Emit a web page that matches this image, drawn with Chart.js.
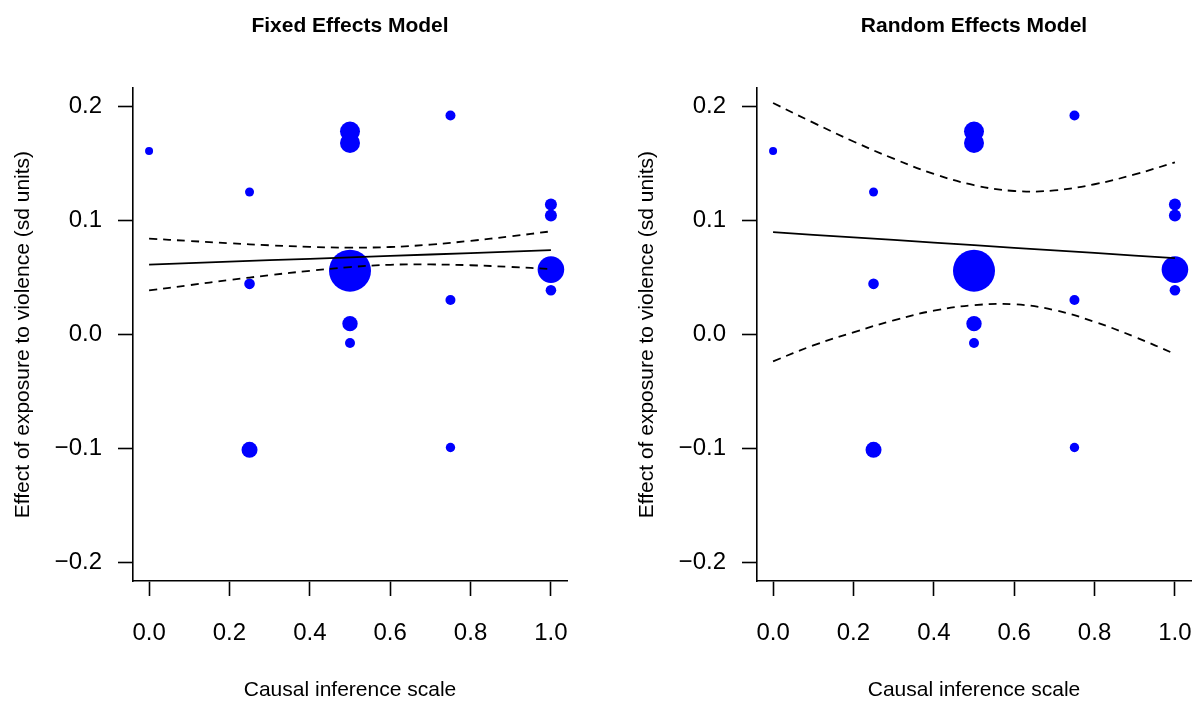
<!DOCTYPE html>
<html>
<head>
<meta charset="utf-8">
<title>Fixed vs Random Effects</title>
<script src="https://cdn.jsdelivr.net/npm/chart.js@4.4.1/dist/chart.umd.min.js"></script>
<style>
  html, body { margin: 0; padding: 0; background: #fff; }
  #wrap { position: relative; width: 1193px; height: 702px; overflow: hidden; }
  #leftChart { position: absolute; left: 0; top: 0; }
  #rightChart { position: absolute; left: 624px; top: 0; }
</style>
</head>
<body>
<div id="wrap">
  <canvas id="leftChart" width="624" height="702"></canvas>
  <canvas id="rightChart" width="624" height="702"></canvas>
</div>
<script>
// axis ticks
const xTicks = [0, 0.2, 0.4, 0.6, 0.8, 1.0];
const yTicks = [-0.2, -0.1, 0, 0.1, 0.2];

// studies: causal inference score, effect size, marker radius (weight)
const studyX = [0, 0.25, 0.25, 0.25, 0.5, 0.5, 0.5, 0.5, 0.5, 0.75, 0.75, 0.75, 1, 1, 1, 1];
const studyY = [0.161, 0.125, 0.0445, -0.101, 0.178, 0.168, 0.056, 0.0096, -0.0073, 0.192, 0.0304, -0.099, 0.114, 0.1044, 0.057, 0.0389];
const studyWeight = [4, 4.5, 5.3, 8, 10, 10, 21, 7.7, 5, 5, 5, 4.7, 6, 6, 13.3, 5.3];

// regression line + 95% band, read at these x values
const bandX = [0, 0.1, 0.2, 0.3, 0.4, 0.5, 0.6, 0.7, 0.8, 0.9, 1.0];

const fixedFit   = [0.0614, 0.0627, 0.0639, 0.0652, 0.0664, 0.0677, 0.0690, 0.0702, 0.0715, 0.0727, 0.0740];
const fixedUpper = [0.0841, 0.0821, 0.0801, 0.0783, 0.0769, 0.0762, 0.0768, 0.0789, 0.0822, 0.0861, 0.0905];
const fixedLower = [0.0387, 0.0433, 0.0478, 0.0521, 0.0559, 0.0592, 0.0612, 0.0615, 0.0608, 0.0593, 0.0575];

const randomFit   = [0.0898, 0.0875, 0.0852, 0.0830, 0.0807, 0.0784, 0.0761, 0.0738, 0.0716, 0.0693, 0.0670];
const randomUpper = [0.2030, 0.1858, 0.1693, 0.1542, 0.1409, 0.1310, 0.1259, 0.1264, 0.1318, 0.1404, 0.1510];
const randomLower = [-0.0234, -0.0095, 0.0020, 0.0125, 0.0210, 0.0258, 0.0266, 0.0215, 0.0112, -0.0020, -0.0170];

const FONT = "'Liberation Sans', Arial, Helvetica, sans-serif";

function fmt(v) {
    const s = Math.abs(v).toFixed(1);
    return v < -1e-9 ? "\u2212" + s : s;
}

function toPoints(xs, ys) {
    return xs.map((x, i) => ({ x: x, y: ys[i] }));
}

function lineSet(ys, dashed) {
    return {
        type: "line",
        data: toPoints(bandX, ys),
        borderColor: "#000",
        borderWidth: 1.8,
        borderDash: dashed ? [8, 6] : [],
        pointRadius: 0,
        fill: false,
        tension: dashed ? 0.4 : 0,
        order: 1
    };
}

function makePanel(canvasId, title, fit, upper, lower) {
    const ctx = document.getElementById(canvasId).getContext("2d");
    return new Chart(ctx, {
        type: "scatter",
        data: {
            datasets: [
                {
                    data: toPoints(studyX, studyY),
                    pointRadius: studyWeight,
                    pointHoverRadius: studyWeight,
                    backgroundColor: "#0000ff",
                    borderWidth: 0,
                    order: 2
                },
                lineSet(fit, false),
                lineSet(upper, true),
                lineSet(lower, true)
            ]
        },
        options: {
            responsive: false,
            animation: false,
            layout: { padding: { left: 0, right: 57, top: 0, bottom: 0 } },
            plugins: {
                legend: { display: false },
                tooltip: { enabled: false },
                title: {
                    display: true,
                    text: title,
                    fullSize: false,
                    color: "#000",
                    font: { family: FONT, size: 21, weight: "bold" },
                    padding: { top: 14, bottom: 49 }
                }
            },
            scales: {
                x: {
                    type: "linear",
                    min: -0.04,
                    max: 1.04,
                    afterBuildTicks: s => { s.ticks = xTicks.map(v => ({ value: v })); },
                    afterFit: s => { s.height = 121; },
                    ticks: {
                        callback: fmt,
                        color: "#000",
                        font: { family: FONT, size: 24 },
                        padding: 23,
                        maxRotation: 0,
                        autoSkip: false
                    },
                    grid: { drawOnChartArea: false, drawTicks: true, tickLength: 15, tickColor: "#000", tickWidth: 1.6 },
                    border: { display: true, color: "#000", width: 1.6 },
                    title: {
                        display: true,
                        text: "Causal inference scale",
                        color: "#000",
                        font: { family: FONT, size: 21 },
                        padding: { top: 0, bottom: -1 }
                    }
                },
                y: {
                    type: "linear",
                    min: -0.216,
                    max: 0.216,
                    afterBuildTicks: s => { s.ticks = yTicks.map(v => ({ value: v })); },
                    afterFit: s => { s.width = 133; },
                    ticks: {
                        callback: fmt,
                        color: "#000",
                        font: { family: FONT, size: 24 },
                        padding: 16
                    },
                    grid: { drawOnChartArea: false, drawTicks: true, tickLength: 15, tickColor: "#000", tickWidth: 1.6 },
                    border: { display: true, color: "#000", width: 1.6 },
                    title: {
                        display: true,
                        text: "Effect of exposure to violence (sd units)",
                        color: "#000",
                        font: { family: FONT, size: 21 },
                        padding: { top: 11, bottom: 0 }
                    }
                }
            }
        }
    });
}

makePanel("leftChart", "Fixed Effects Model", fixedFit, fixedUpper, fixedLower);
makePanel("rightChart", "Random Effects Model", randomFit, randomUpper, randomLower);
</script>
</body>
</html>
